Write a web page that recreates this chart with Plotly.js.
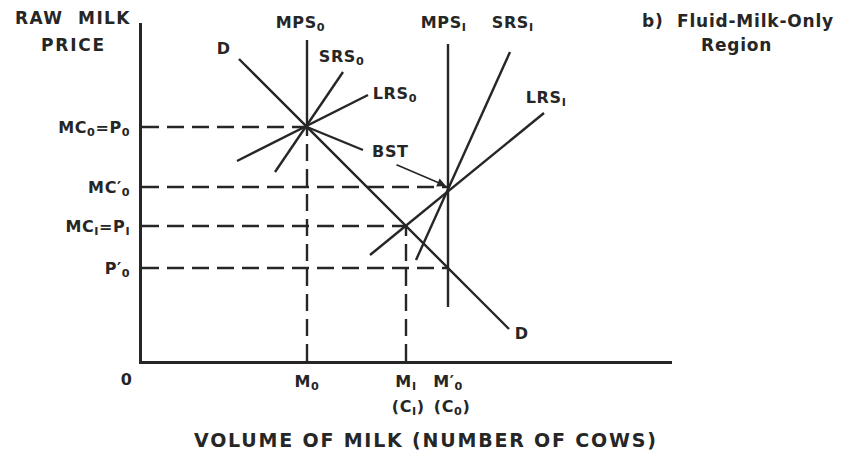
<!DOCTYPE html>
<html>
<head>
<meta charset="utf-8">
<script src="https://cdn.plot.ly/plotly-3.0.1.min.js"></script>
<style>
html,body{margin:0;padding:0;background:#fff;}
#chart{width:841px;height:471px;}
#chart text{letter-spacing:0.6px;}
</style>
</head>
<body>
<div id="chart"></div>
<script>
// ---- data (chart units) ----
const qLevels = [165, 264, 306];            // M0, M1, M0'
const qLabels = ['M<sub>0</sub>', 'M<sub>I</sub>', 'M′<sub>0</sub>'];
const cowLabels = ['(C<sub>I</sub>)', '(C<sub>0</sub>)'];
const pLevels = [234, 174, 135, 93];       // P0, MC0', P1, P0'
const pLabels = ['MC<sub>0</sub>=P<sub>0</sub>', 'MC′<sub>0</sub>', 'MC<sub>I</sub>=P<sub>I</sub>', 'P′<sub>0</sub>'];
const hGuideEnds = [165, 306, 264, 306];   // where each price guide stops
const vGuideQ = [165, 264];                // dashed quantity guides
const vGuideTop = [234, 135];

const demandX = [97, 367];
const demandY = [302, 32];
const mps0X = [165, 165];
const mps0Y = [321, 234];
const mps1X = [306, 306];
const mps1Y = [317, 54];
const srs0X = [133, 201];
const srs0Y = [189, 289];
const lrs0X = [95, 226];
const lrs0Y = [200, 266];
const srs1X = [274, 368];
const srs1Y = [101, 309];
const lrs1X = [228, 402];
const lrs1Y = [106, 248];
const bstX = [165, 221];
const bstY = [234, 211];

const ink = '#262626';
const FONT = 'DejaVu Sans, Liberation Sans, sans-serif';
const solid = (x, y) => ({x, y, type: 'scatter', mode: 'lines', line: {color: ink, width: 2.4}, hoverinfo: 'skip', cliponaxis: false});
const dashed = (x, y) => ({x, y, type: 'scatter', mode: 'lines', line: {color: ink, width: 2.4, dash: '17px,8px'}, hoverinfo: 'skip'});

const traces = [];
pLevels.forEach((p, i) => traces.push(dashed([0, hGuideEnds[i]], [p, p])));
vGuideQ.forEach((q, i) => traces.push(dashed([q, q], [0, vGuideTop[i]])));
[[demandX, demandY], [mps0X, mps0Y], [mps1X, mps1Y], [srs0X, srs0Y], [lrs0X, lrs0Y],
 [srs1X, srs1Y], [lrs1X, lrs1Y], [bstX, bstY]].forEach(([x, y]) => traces.push(solid(x, y)));

// label placed by page pixel position (converted to paper fractions of the plot area)
const L = 142, T = 23, W = 530, H = 338;
const lab = (text, px, py, size = 16, spacing = null) => ({
  text: spacing ? `<span style="letter-spacing:${spacing}px">${text}</span>` : text,
  x: (px - L) / W, y: (T + H - py) / H, xref: 'paper', yref: 'paper',
  xanchor: 'center', yanchor: 'middle', showarrow: false,
  font: {family: FONT, size, color: ink, weight: 'bold'}
});

const annotations = [
  lab('RAW  MILK', 73, 18, 17, 1.4),
  lab('PRICE', 73, 45, 17, 1.8),
  lab('0', 126, 379),
  lab('D', 223, 48),
  lab('D', 521, 333),
  lab('MPS<sub>0</sub>', 300, 23),
  lab('SRS<sub>0</sub>', 341, 58),
  lab('LRS<sub>0</sub>', 395, 95),
  lab('BST', 390, 152),
  lab('MPS<sub>I</sub>', 443, 23),
  lab('SRS<sub>I</sub>', 513, 23),
  lab('LRS<sub>I</sub>', 546, 98),
  lab('b)  Fluid-Milk-Only', 738, 21, 17, 0.8),
  lab('Region', 736, 45, 17, 0.8),
  lab(cowLabels[0], 408, 407),
  lab(cowLabels[1], 452, 407),
  lab('VOLUME OF MILK (NUMBER OF COWS)', 426, 440, 19, 1.8),
  {text: '', x: 304, y: 175, ax: 253, ay: 197, xref: 'x', yref: 'y', axref: 'x', ayref: 'y',
   showarrow: true, arrowhead: 2, arrowsize: 1.1, arrowwidth: 1.6, arrowcolor: ink}
];

const layout = {
  width: 841, height: 471,
  margin: {l: L, r: 841 - L - W, t: T, b: 471 - T - H},
  paper_bgcolor: '#fff', plot_bgcolor: '#fff',
  showlegend: false,
  xaxis: {range: [0, 530], showgrid: false, zeroline: false, showline: true, linecolor: ink, linewidth: 2.6,
          tickvals: qLevels, ticktext: qLabels, ticks: '', ticklabelstandoff: 4,
          tickfont: {family: FONT, size: 16, color: ink, weight: 'bold'}},
  yaxis: {range: [0, 338], showgrid: false, zeroline: false, showline: true, linecolor: ink, linewidth: 2.6,
          tickvals: pLevels, ticktext: pLabels, ticks: '', ticklabelstandoff: 6,
          tickfont: {family: FONT, size: 16, color: ink, weight: 'bold'}},
  annotations
};

Plotly.newPlot('chart', traces, layout, {staticPlot: true, displayModeBar: false});
</script>
</body>
</html>
